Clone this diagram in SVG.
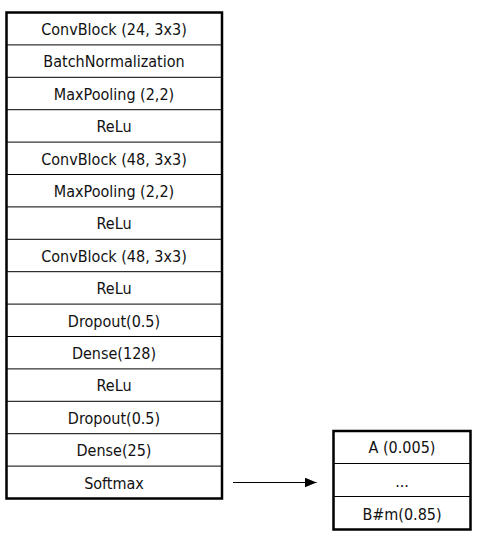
<svg xmlns="http://www.w3.org/2000/svg" width="481" height="540" viewBox="0 0 481 540">
<style>
.t{font-family:"DejaVu Sans Condensed","Liberation Sans Narrow","Liberation Sans",sans-serif;font-stretch:condensed;font-size:16px;fill:#111;text-anchor:middle;dominant-baseline:central}
.box{fill:#fff;stroke:#000;stroke-width:2.5}
.sep{stroke:#000;stroke-width:1}
</style>
<defs>
<marker id="ah" markerWidth="12" markerHeight="10" refX="12" refY="5" orient="auto" markerUnits="userSpaceOnUse">
<path d="M0,0 L12,5 L0,10 z" fill="#000"/>
</marker>
</defs>
<rect width="481" height="540" fill="#fff"/>
<g id="model">
<rect class="box" x="6.5" y="12.5" width="215.5" height="486"/>
<g class="sep">
<line x1="6.5" y1="44.9" x2="222" y2="44.9"/>
<line x1="6.5" y1="77.3" x2="222" y2="77.3"/>
<line x1="6.5" y1="109.7" x2="222" y2="109.7"/>
<line x1="6.5" y1="142.1" x2="222" y2="142.1"/>
<line x1="6.5" y1="174.5" x2="222" y2="174.5"/>
<line x1="6.5" y1="206.9" x2="222" y2="206.9"/>
<line x1="6.5" y1="239.3" x2="222" y2="239.3"/>
<line x1="6.5" y1="271.7" x2="222" y2="271.7"/>
<line x1="6.5" y1="304.1" x2="222" y2="304.1"/>
<line x1="6.5" y1="336.5" x2="222" y2="336.5"/>
<line x1="6.5" y1="368.9" x2="222" y2="368.9"/>
<line x1="6.5" y1="401.3" x2="222" y2="401.3"/>
<line x1="6.5" y1="433.7" x2="222" y2="433.7"/>
<line x1="6.5" y1="466.1" x2="222" y2="466.1"/>
</g>
<text class="t" x="114" y="29">ConvBlock (24, 3x3)</text>
<text class="t" x="114" y="61.5">BatchNormalization</text>
<text class="t" x="114" y="94">MaxPooling (2,2)</text>
<text class="t" x="114" y="126.5">ReLu</text>
<text class="t" x="114" y="159">ConvBlock (48, 3x3)</text>
<text class="t" x="114" y="191">MaxPooling (2,2)</text>
<text class="t" x="114" y="223.5">ReLu</text>
<text class="t" x="114" y="256">ConvBlock (48, 3x3)</text>
<text class="t" x="114" y="288.5">ReLu</text>
<text class="t" x="114" y="321">Dropout(0.5)</text>
<text class="t" x="114" y="353">Dense(128)</text>
<text class="t" x="114" y="385.5">ReLu</text>
<text class="t" x="114" y="418">Dropout(0.5)</text>
<text class="t" x="114" y="450.5">Dense(25)</text>
<text class="t" x="114" y="483">Softmax</text>
</g>
<g id="output">
<rect class="box" x="333.5" y="431" width="137" height="98.5"/>
<line class="sep" x1="333.5" y1="463.5" x2="470.5" y2="463.5"/>
<line class="sep" x1="333.5" y1="496.5" x2="470.5" y2="496.5"/>
<text class="t" x="402" y="447.5">A (0.005)</text>
<text class="t" x="402" y="481">...</text>
<text class="t" x="402" y="514">B#m(0.85)</text>
</g>
<g id="connectors">
<line x1="233" y1="482.5" x2="316.5" y2="482.5" stroke="#000" stroke-width="1" marker-end="url(#ah)"/>
</g>
</svg>
